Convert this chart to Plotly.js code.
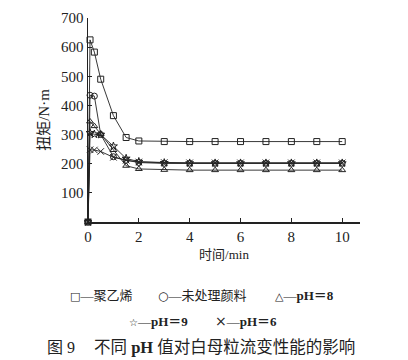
<!DOCTYPE html>
<html><head><meta charset="utf-8">
<script src="https://cdn.plot.ly/plotly-3.0.1.min.js"></script>
<style>html,body{margin:0;padding:0;background:#fff;}#chart{width:408px;height:360px;}</style>
</head><body><div id="chart"></div>
<script>
const time = [0, 0.08, 0.25, 0.5, 1, 1.5, 2, 3, 4, 5, 6, 7, 8, 9, 10];
const polyethylene = [0, 625, 583, 490, 365, 290, 278, 276, 276, 276, 276, 276, 276, 276, 276];
const untreated    = [0, 435, 432, 300, 224, 212, 204, 201, 201, 201, 201, 201, 201, 201, 201];
const pH8          = [0, 345, 329, 302, 247, 193, 182, 179, 178, 178, 178, 178, 178, 178, 178];
const pH9          = [0, 306, 301, 300, 260, 218, 207, 203, 202, 202, 202, 202, 202, 202, 202];
const pH6          = [0, 248, 247, 242, 222, 212, 206, 204, 203, 203, 203, 203, 203, 203, 203];
const seriesNames = ['聚乙烯', '未处理颜料', 'pH＝8', 'pH＝9', 'pH＝6'];
const xTicks = [0, 2, 4, 6, 8, 10];
const yTicks = [100, 200, 300, 400, 500, 600, 700];

const symbols = ['square-open', 'circle-open', 'triangle-up-open', 'star-open', 'x-thin-open'];
const data = [polyethylene, untreated, pH8, pH9, pH6].map((ys, i) => ({
  x: time, y: ys, name: seriesNames[i], type: 'scatter', mode: 'lines+markers',
  cliponaxis: false,
  line: {color: '#222', width: 0.9},
  marker: {symbol: symbols[i], size: i === 4 ? 6.5 : 6, color: '#222', line: {color: '#222', width: 1}}
}));

const L = 88, T = 18, W = 272, H = 204;
const px = x => (x - L) / W;
const py = y => (222 - y) / H;
const serif = 'Liberation Serif, Noto Sans CJK SC, serif';
const sym = (s, size) => '<span style="font-family:DejaVu Sans;font-size:' + size + 'px">' + s + '</span>';
const ann = (text, x, y, size, anchor) => ({
  text, xref: 'paper', yref: 'paper', x: px(x), y: py(y), showarrow: false,
  xanchor: anchor || 'left', yanchor: 'middle', font: {family: serif, size: size || 13, color: '#222'}
});

const layout = {
  width: 408, height: 360,
  margin: {l: L, r: 408 - L - W, t: T, b: 360 - 222},
  paper_bgcolor: '#fff', plot_bgcolor: '#fff',
  showlegend: false,
  font: {family: serif, color: '#222'},
  xaxis: {
    range: [0, 10.7], tickvals: xTicks, ticks: 'inside', ticklen: 4, tickwidth: 1, tickcolor: '#222',
    showline: true, linecolor: '#222', linewidth: 1.5, showgrid: false, zeroline: false,
    tickfont: {family: serif, size: 15, color: '#222'},
    title: {text: '时间/min', font: {family: serif, size: 13, color: '#222'}, standoff: 6}
  },
  yaxis: {
    range: [0, 700], tickvals: yTicks, ticks: 'inside', ticklen: 4, tickwidth: 1, tickcolor: '#222',
    showline: true, linecolor: '#222', linewidth: 1.5, showgrid: false, zeroline: false,
    tickfont: {family: serif, size: 15, color: '#222'},
    title: {text: '扭矩/N·m', font: {family: serif, size: 15, color: '#222'}, standoff: 8}
  },
  annotations: [
    ann(sym('□', 11) + '—' + seriesNames[0], 68, 295),
    ann(sym('○', 12) + '—' + seriesNames[1], 156, 295),
    ann(sym('△', 11) + '—<b>' + seriesNames[2] + '</b>', 273, 295),
    ann(sym('☆', 10) + '—<b>' + seriesNames[3] + '</b>', 127, 321),
    ann(sym('×', 14) + '—<b>' + seriesNames[4] + '</b>', 213, 321),
    ann('图 9', 45, 347, 16),
    ann('不同 <b>pH</b> 值对白母粒流变性能的影响', 92, 347, 16.5)
  ]
};
Plotly.newPlot('chart', data, layout, {staticPlot: true, displayModeBar: false});
</script></body></html>
